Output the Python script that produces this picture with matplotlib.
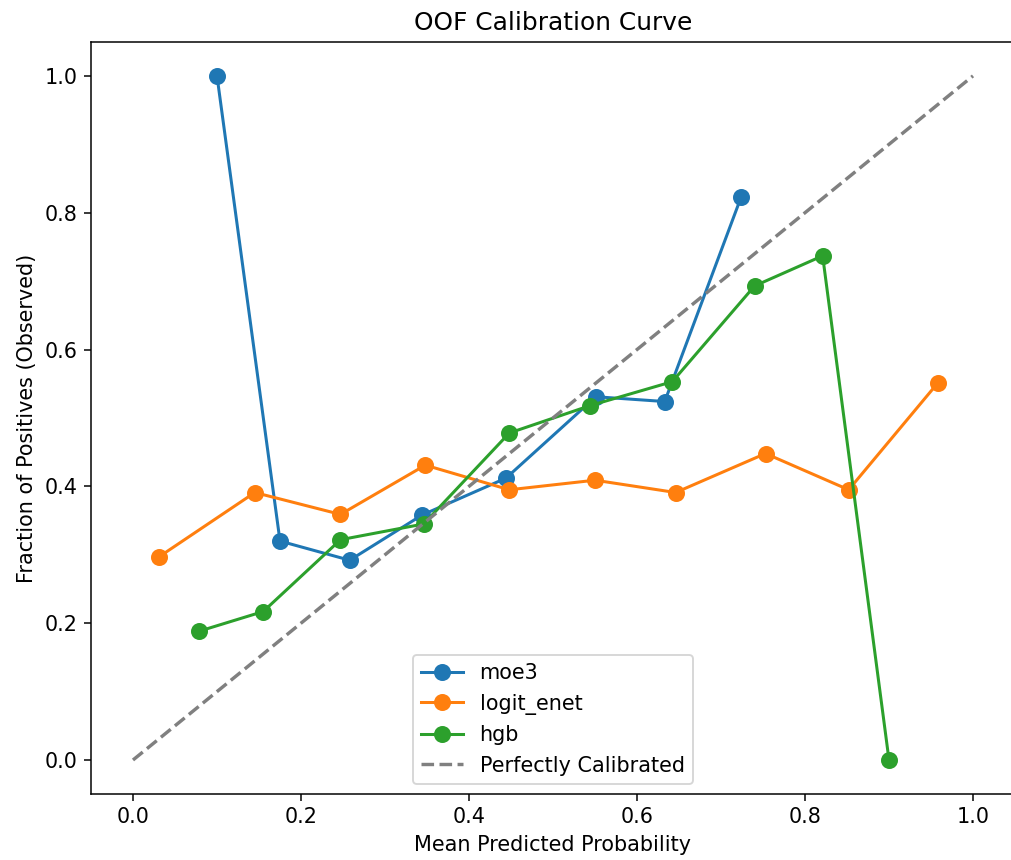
import matplotlib
matplotlib.use("Agg")
import matplotlib.pyplot as plt

# moe3
moe3_x = [0.100, 0.175, 0.258, 0.344, 0.444, 0.551, 0.633, 0.724]
moe3_y = [1.000, 0.320, 0.292, 0.358, 0.412, 0.531, 0.524, 0.823]

# logit_enet
enet_x = [0.031, 0.145, 0.247, 0.348, 0.448, 0.550, 0.646, 0.753, 0.852, 0.958]
enet_y = [0.297, 0.391, 0.359, 0.431, 0.395, 0.409, 0.391, 0.448, 0.395, 0.551]

# hgb
hgb_x = [0.078, 0.155, 0.247, 0.346, 0.448, 0.544, 0.642, 0.740, 0.821, 0.900]
hgb_y = [0.188, 0.217, 0.322, 0.345, 0.478, 0.518, 0.553, 0.693, 0.737, 0.000]

diag = [0.0, 1.0]

DPI = 136
plt.rcParams["font.size"] = 11
fig = plt.figure(figsize=(1011 / DPI, 860 / DPI), dpi=DPI)
ax = fig.add_axes([91 / 1011, 65.8 / 860, (1015 - 91) / 1011, (794.2 - 41.7) / 860])

ax.plot(moe3_x, moe3_y, marker="o", markersize=8, linewidth=1.6, label="moe3")
ax.plot(enet_x, enet_y, marker="o", markersize=8, linewidth=1.6, label="logit_enet")
ax.plot(hgb_x, hgb_y, marker="o", markersize=8, linewidth=1.6, label="hgb")
ax.plot(diag, diag, linestyle="--", color="gray", linewidth=1.8, label="Perfectly Calibrated")

ax.set_xlim(-0.05, 1.05)
ax.set_ylim(-0.05, 1.05)
ax.set_title("OOF Calibration Curve", fontsize=13.2)
ax.set_xlabel("Mean Predicted Probability")
ax.set_ylabel("Fraction of Positives (Observed)")
ax.legend(loc="lower center")

fig.savefig("out.png", dpi=DPI)
